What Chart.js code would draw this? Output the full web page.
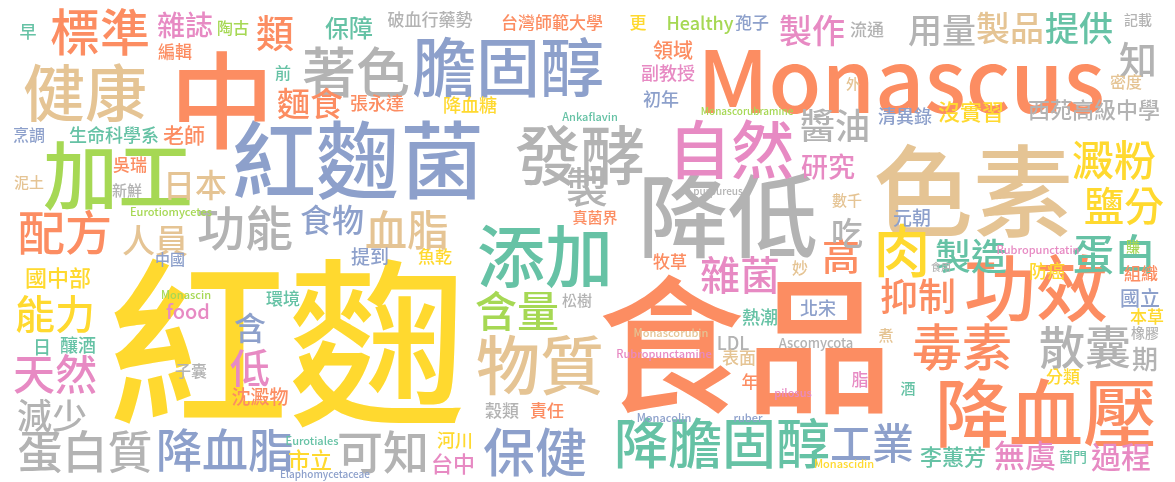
<!DOCTYPE html>
<html><head><meta charset="utf-8">
<script src="https://cdn.jsdelivr.net/npm/chart.js@4"></script>
<style>html,body{margin:0;padding:0;background:#fff}#w{width:1175px;height:482px}</style>
</head><body><div id="w"><canvas id="c"></canvas></div>
<script>
const palette=['#fc8d62','#8da0cb','#66c2a5','#e78ac3','#a6d854','#ffd92f','#e5c494','#b3b3b3'];
const words=['紅麴','食品','Monascus','色素','紅麴菌','膽固醇','中','降低','健康','標準',
'加工','添加','發酵','自然','著色','功能','功效','降血壓','毒素','物質',
'保健','降膽固醇','工業','降血脂','蛋白質','可知','天然','能力','配方','減少',
'血脂','食物','人員','日本','麵食','類','雜誌','保障','含量','含',
'低','沈澱物','雜菌','抑制','肉','高','製造','蛋白','澱粉','鹽分',
'醬油','研究','吃','製','用量','製品','提供','製作','知','流通',
'記載','孢子','更','Healthy','台灣師範大學','破血行藥勢','陶古','副教授','領域','初年',
'西苑高級中學','密度','清異錄','沒實習','張永達','降血糖','老師','生命科學系','烹調','吳瑞',
'新鮮','國中部','中國','food','環境','提到','魚乾','松樹','牧草','妙',
'北宋','熱潮','LDL','Ascomycota','表面','年','期','散囊','無虞','過程',
'李蕙芳','菌門','國立','組織','橡膠','本草','分類','數千','元朝','防癌',
'責任','穀類','市立','子囊','河川','台中','真菌界','釀酒','Eurotiales','Elaphomycetaceae',
'脂','酒','煮','Ankaflavin','purpureus','Rubropunctatin','Monascin','Monacolin','ruber','pilosus',
'Monascorubin','Rubropunctamine','泥土','編輯','早','前','外','Monascorubramine','Eurotiomycetes','日',
'賺','Monascidin','食用'];
const xs=[288,745,901,973,358,508,222,728,85,100,
118,545,580,731,356,245,1036,1046,962,540,
535,722,872,225,85,383,55,55,65,52,
407,332,155,195,310,275,185,349,517,250,
250,260,740,918,902,841,971,1114,1114,1124,
835,828,847,587,942,1010,1079,812,1138,867,
1138,752,638,700,552,430,233,668,673,661,
1094,1126,905,971,377,470,184,114,29,130,
127,58,170,188,283,370,435,577,670,800,
818,760,733,816,739,750,1145,1085,1025,1121,
953,1073,1140,1141,1145,1147,1063,847,912,1047,
547,502,310,191,455,453,595,78,312,325,
860,908,886,590,718,1038,186,664,748,793,
671,664,29,175,28,283,853,747,171,42,
1133,844,941];
const ys=[343,345,80,191,160,67,100,216,93,32,
175,256,155,149,72,228,288,413,347,365,
452,443,443,450,452,452,374,314,232,416,
230,220,240,185,103,33,25,28,311,328,
368,397,275,296,250,256,256,254,160,206,
126,167,233,187,30,28,28,30,60,30,
20,23,23,23,23,20,28,73,50,99,
110,82,116,112,103,105,135,135,135,165,
190,278,259,311,299,257,257,300,262,268,
308,317,343,343,358,382,359,347,455,457,
457,457,298,274,333,317,377,200,218,271,
411,411,460,371,440,464,217,345,441,474,
380,388,335,117,191,250,295,418,418,393,
333,354,182,52,32,73,84,111,212,347,
247,464,267];
const sizes=[180,148,86,100,84,64,105,90,62,50,
75,68,65,63,54,48,72,74,50,64,
52,54,42,46,45,46,42,40,47,35,
42,32,33,32,33,38,28,24,42,32,
40,19,40,38,57,38,36,42,42,40,
35,27,32,42,34,34,34,33,38,17,
14,17,17,18,17,17,16,18,20,18,
22,16,18,22,18,18,21,18,16,17,
15,22,15,20,17,19,17,15,17,16,
18,18,18,13,17,17,26,46,31,30,
22,14,20,17,14,17,17,15,19,18,
17,17,22,16,18,22,15,18,11,10,
17,15,15,11,10,11,11,11,11,11,
11,11,15,17,17,16,14,10,11,18,
14,11,10];
const cols=[5,0,0,6,1,1,0,7,6,0,
4,2,7,3,7,7,0,0,0,6,
1,2,1,1,7,7,3,5,0,7,
6,1,6,6,0,0,3,2,4,1,
3,0,3,0,5,0,2,2,5,5,
7,3,7,7,7,6,2,3,7,7,
7,1,5,4,0,7,4,3,0,1,
7,6,1,5,0,5,0,2,1,0,
7,5,1,3,2,1,5,7,0,6,
1,2,7,7,6,0,7,7,3,3,
2,2,1,0,7,5,5,6,1,5,
0,7,5,7,5,3,0,2,2,1,
3,2,6,2,7,3,4,1,1,3,
6,3,6,0,2,2,6,4,4,2,
4,5,7];
const cloud={id:'cloud',afterDatasetsDraw(ch){const c=ch.ctx,sx=ch.scales.x,sy=ch.scales.y;c.save();c.textAlign='center';c.textBaseline='middle';
words.forEach((w,i)=>{c.font='500 '+sizes[i]+'px "Noto Sans CJK TC","Noto Sans",sans-serif';c.fillStyle=palette[cols[i]];c.fillText(w,sx.getPixelForValue(xs[i]),sy.getPixelForValue(ys[i]));});c.restore();}};
new Chart(document.getElementById('c'),{type:'scatter',data:{datasets:[{data:words.map((w,i)=>({x:xs[i],y:ys[i]})),pointRadius:0}]},
options:{responsive:true,maintainAspectRatio:false,animation:false,layout:{padding:0},plugins:{legend:{display:false},tooltip:{enabled:false}},
scales:{x:{display:false,min:0,max:1175},y:{display:false,min:0,max:482,reverse:true}}},plugins:[cloud]});
</script></body></html>
